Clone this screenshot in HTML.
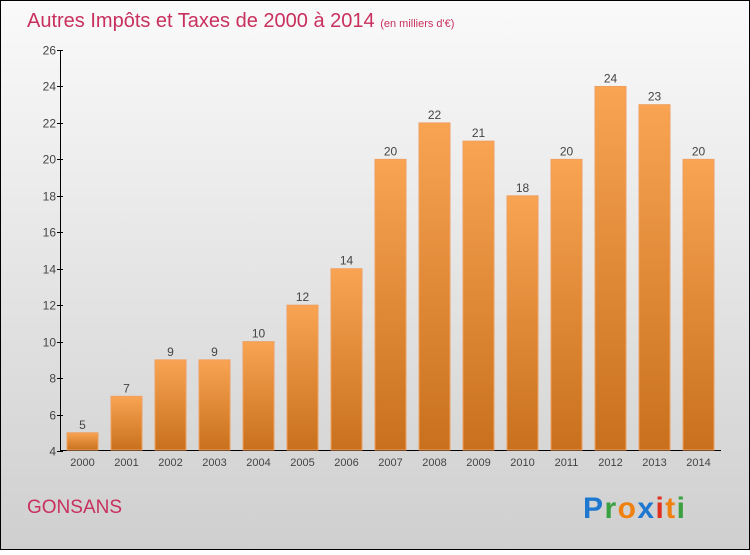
<!DOCTYPE html>
<html><head><meta charset="utf-8"><style>
body{margin:0;width:750px;height:550px;overflow:hidden;font-family:"Liberation Sans",sans-serif}
</style></head><body>
<svg id="c" width="750" height="550" xmlns="http://www.w3.org/2000/svg">
<defs>
<linearGradient id="bg" x1="0" y1="0" x2="0" y2="1"><stop offset="0" stop-color="#fafafa"/><stop offset="1" stop-color="#cfcfcf"/></linearGradient>
<linearGradient id="bar" x1="0" y1="0" x2="0" y2="1"><stop offset="0" stop-color="#f8a452"/><stop offset="1" stop-color="#c8701e"/></linearGradient>
</defs>
<rect x="0.5" y="0.5" width="749" height="549" fill="url(#bg)" stroke="#000"/>
<text x="27" y="27" font-size="20" fill="#c8305e">Autres Impôts et Taxes de 2000 à 2014 <tspan font-size="11">(en milliers d'€)</tspan></text>
<g id="plot"></g>
<text x="27" y="513" font-size="19" fill="#c8305e">GONSANS</text>
<text x="583" y="518" font-size="30" font-weight="bold" textLength="102"><tspan fill="#1e78d0">P</tspan><tspan fill="#3aa040">r</tspan><tspan fill="#f08010">o</tspan><tspan fill="#1e78d0">x</tspan><tspan fill="#e03020">i</tspan><tspan fill="#f08010">t</tspan><tspan fill="#3aa040">i</tspan></text>
</svg>
<script>
const years=["2000","2001","2002","2003","2004","2005","2006","2007","2008","2009","2010","2011","2012","2013","2014"];
const values=[5,7,9,9,10,12,14,20,22,21,18,20,24,23,20];
const yTicks=[4,6,8,10,12,14,16,18,20,22,24,26];
const NS="http://www.w3.org/2000/svg";
const g=document.getElementById('plot');
const y=v=>451-(v-4)*(401/22);
const x=i=>82.5+i*44;
function mk(t,a){const e=document.createElementNS(NS,t);for(const k in a)e.setAttribute(k,a[k]);g.appendChild(e);return e;}
let ax=mk('line',{x1:60.5,y1:50,x2:60.5,y2:451,stroke:'#000'});


let bx=mk('line',{x1:60,y1:450.5,x2:721,y2:450.5,stroke:'#000'});


yTicks.forEach(v=>{
 const yy=Math.round(y(v))+0.5;
 const tk=mk('line',{x1:57,y1:yy,x2:63,y2:yy,stroke:'#000'});
 
 
 const t=mk('text',{x:56,y:yy+4,'text-anchor':'end','font-size':12,fill:'#444'});
 t.textContent=v;
 
 
});
years.forEach((yr,i)=>{
 const r=mk('rect',{x:x(i)-15.5,y:y(values[i]),width:31,height:450-y(values[i]),fill:'url(#bar)',stroke:'#f0a060','stroke-width':1});
 
 
 const v=mk('text',{x:x(i),y:y(values[i])-4,'text-anchor':'middle','font-size':12,fill:'#444'});
 v.textContent=values[i];
 
 
 const t=mk('text',{x:x(i),y:466,'text-anchor':'middle','font-size':11,fill:'#444'});
 t.textContent=yr;
 
 
});
</script>
</body></html>
